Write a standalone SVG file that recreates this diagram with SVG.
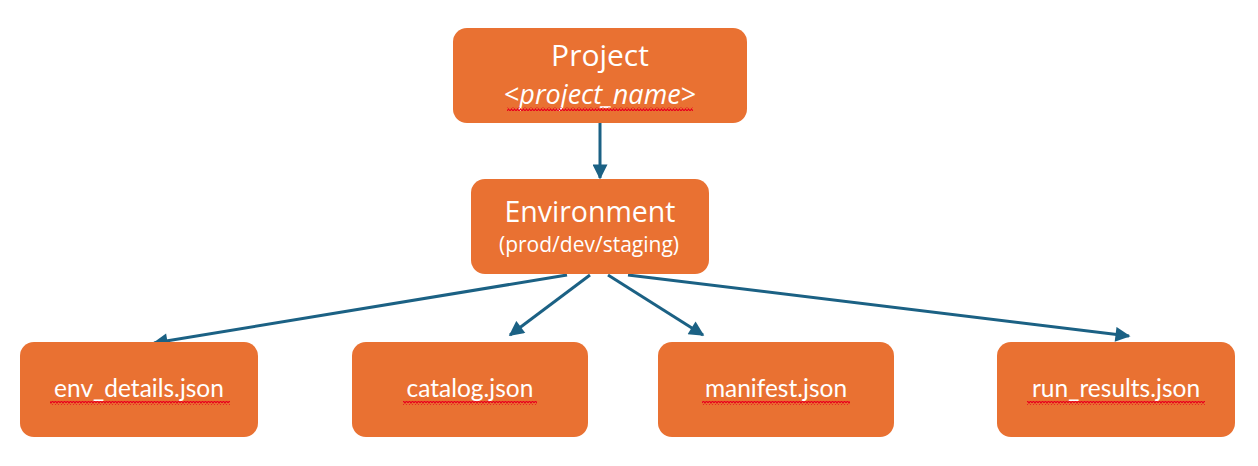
<svg xmlns="http://www.w3.org/2000/svg" width="1258" height="466" viewBox="0 0 1258 466">
<defs>
<style>
.box{fill:#E97132;}
.t{fill:#fff;font-family:"Open Sans","Noto Sans",sans-serif;text-anchor:middle;}
.leaf{fill:#fff;font-family:Lato,"Liberation Sans",sans-serif;font-size:24.5px;text-anchor:middle;}
.conn{stroke:#1B6184;stroke-width:3;fill:none;marker-end:url(#ah);}
</style>
<marker id="ah" viewBox="0 0 10 10" refX="9" refY="5" markerWidth="5.5" markerHeight="5" orient="auto" markerUnits="strokeWidth">
<path d="M0,0 L10,5 L0,10 Z" fill="#1B6184"/>
</marker>
<pattern id="zz" width="6" height="4" patternUnits="userSpaceOnUse">
<path d="M0,3 L1.5,1 L3,3 L4.5,1 L6,3" stroke="#E8001C" stroke-width="1.2" fill="none"/>
</pattern>
</defs>
<g id="connectors">
<line class="conn" x1="600" y1="123" x2="600" y2="178"/>
<line class="conn" x1="567" y1="275" x2="154" y2="343"/>
<line class="conn" x1="590" y1="275" x2="510" y2="335"/>
<line class="conn" x1="608" y1="275" x2="703" y2="335"/>
<line class="conn" x1="628" y1="275" x2="1129" y2="336"/>
</g>
<g id="project">
<rect class="box" x="453" y="28" width="294" height="95" rx="14"/>
<text class="t" x="600" y="66" font-size="30">Project</text>
<text class="t" x="600" y="104" font-size="27">&lt;<tspan font-style="italic">project_name</tspan>&gt;</text>
<rect x="507" y="107" width="186" height="4" fill="url(#zz)"/>
</g>
<g id="environment">
<rect class="box" x="471" y="179" width="238" height="95" rx="14"/>
<text class="t" x="590" y="222" font-size="28.5">Environment</text>
<text class="t" x="589" y="252" font-size="21">(prod/dev/staging)</text>
</g>
<g id="env_details">
<rect class="box" x="20" y="342" width="238" height="95" rx="14"/>
<text class="leaf" x="139" y="397">env_details.json</text>
<rect x="50" y="401" width="180" height="4" fill="url(#zz)"/>
</g>
<g id="catalog">
<rect class="box" x="352" y="342" width="236" height="95" rx="14"/>
<text class="leaf" x="470" y="397">catalog.json</text>
<rect x="403" y="401" width="134" height="4" fill="url(#zz)"/>
</g>
<g id="manifest">
<rect class="box" x="658" y="342" width="236" height="95" rx="14"/>
<text class="leaf" x="776" y="397">manifest.json</text>
<rect x="702" y="401" width="148" height="4" fill="url(#zz)"/>
</g>
<g id="run_results">
<rect class="box" x="997" y="342" width="238" height="95" rx="14"/>
<text class="leaf" x="1116" y="397">run_results.json</text>
<rect x="1027" y="401" width="178" height="4" fill="url(#zz)"/>
</g>
</svg>
